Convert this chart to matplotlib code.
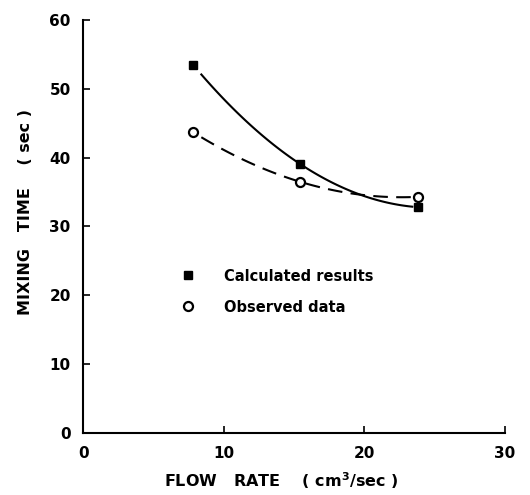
import numpy as np
import matplotlib.pyplot as plt

flow = [7.8, 15.4, 23.8]
calculated = [53.5, 39.1, 32.8]
observed = [43.7, 36.5, 34.3]

plt.rcParams['font.family'] = 'DejaVu Sans'
plt.rcParams['font.weight'] = 'bold'

fig = plt.figure(figsize=(5.3, 4.95), dpi=100)
ax = fig.add_axes([0.157, 0.125, 0.796, 0.835])

xs = np.linspace(flow[0] + 0.6, flow[-1] - 0.4, 100)
c_fit = np.polyfit(flow, calculated, 2)
o_fit = np.polyfit(flow, observed, 2)
ax.plot(xs, np.polyval(c_fit, xs), color='black', lw=1.5)
ax.plot(xs, np.polyval(o_fit, xs), color='black', lw=1.5, dashes=(7, 4))

ax.plot(flow, calculated, 's', color='black', ms=6, label='Calculated results')
ax.plot(flow, observed, 'o', mfc='white', mec='black', mew=1.6, ms=6.5, label='Observed data')

ax.set_xlim(0, 30)
ax.set_ylim(0, 60)
ax.set_xticks([0, 10, 20, 30])
ax.set_yticks([0, 10, 20, 30, 40, 50, 60])
ax.tick_params(direction='in', length=5, width=1.2, labelsize=11, pad=9)
for s in ['top', 'right']:
    ax.spines[s].set_visible(False)
for s in ['left', 'bottom']:
    ax.spines[s].set_linewidth(1.5)

ax.set_xlabel('FLOW   RATE    ( cm$^3$/sec )', fontsize=11.5, fontweight='bold')
ax.xaxis.set_label_coords(0.47, -0.09)
ax.set_ylabel('MIXING   TIME    ( sec )', fontsize=11.5, fontweight='bold')
ax.yaxis.set_label_coords(-0.12, 0.535)

ax.legend(loc='upper left', bbox_to_anchor=(0.2, 0.43), frameon=False,
          fontsize=10.5, handletextpad=2.0, labelspacing=1.1, handlelength=1.0)

fig.savefig('out.png', dpi=100)
